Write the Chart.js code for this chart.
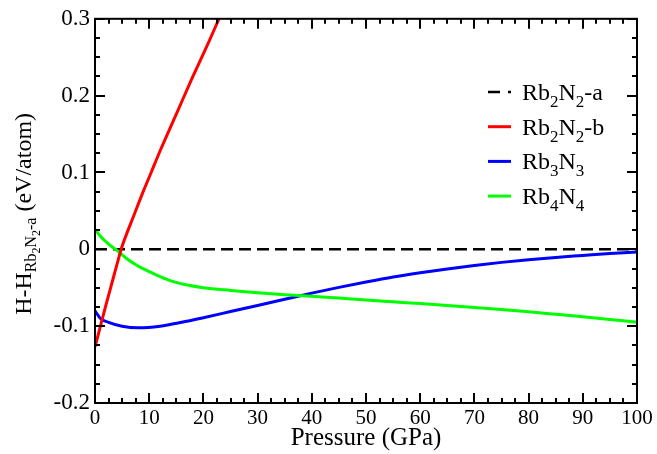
<!DOCTYPE html>
<html>
<head>
<meta charset="utf-8">
<script src="https://cdn.jsdelivr.net/npm/chart.js@4"></script>
<style>
html,body{margin:0;padding:0;background:#fff;}
#wrap{width:657px;height:454px;position:relative;}
</style>
</head>
<body>
<div id="wrap"><canvas id="c" width="657" height="454"></canvas></div>
<script>
// ---- data ----
const refPressure = [0, 100];
const refEnergy = [0, 0];

const redPressure = [0, 1, 2, 3, 4, 5, 6, 7, 9, 10.3, 12, 15, 18, 21, 23];
const redEnergy = [-0.127, -0.100, -0.073, -0.047, -0.021, 0.004, 0.023, 0.041, 0.077, 0.099, 0.128, 0.176, 0.224, 0.270, 0.302];

const bluePressure = [0, 1, 2.5, 5, 8, 12, 16, 20, 25, 30, 35, 40, 45, 50, 55, 60, 65, 70, 75, 80, 85, 90, 95, 100];
const blueEnergy = [-0.080, -0.090, -0.095, -0.100, -0.102, -0.100, -0.095, -0.089, -0.081, -0.073, -0.065, -0.057, -0.0495, -0.0425, -0.036, -0.0305, -0.0255, -0.021, -0.017, -0.0135, -0.0105, -0.008, -0.0055, -0.0035];

const greenPressure = [0, 1, 2, 3, 4, 6, 8, 10, 12, 14, 17, 20, 25, 30, 35, 40, 45, 50, 55, 60, 65, 70, 75, 80, 85, 90, 95, 100];
const greenEnergy = [0.026, 0.017, 0.010, 0.004, -0.001, -0.013, -0.022, -0.029, -0.0355, -0.041, -0.0465, -0.050, -0.0535, -0.0565, -0.059, -0.061, -0.0635, -0.066, -0.0683, -0.0706, -0.073, -0.0756, -0.0783, -0.0812, -0.0845, -0.0878, -0.0913, -0.095];

const xTickValues = [0, 10, 20, 30, 40, 50, 60, 70, 80, 90, 100];
const yTickValues = [-0.2, -0.1, 0, 0.1, 0.2, 0.3];

const xTitle = "Pressure (GPa)";
// y title segments: [text, level] level 0 = normal, 1 = subscript, 2 = sub-subscript
const yTitleParts = [["H-H", 0], ["Rb", 1], ["2", 2], ["N", 1], ["2", 2], ["-a", 1], [" (eV/atom)", 0]];

const legendParts = [
  [["Rb", 0], ["2", 1], ["N", 0], ["2", 1], ["-a", 0]],
  [["Rb", 0], ["2", 1], ["N", 0], ["2", 1], ["-b", 0]],
  [["Rb", 0], ["3", 1], ["N", 0], ["3", 1]],
  [["Rb", 0], ["4", 1], ["N", 0], ["4", 1]]
];
const seriesColors = ["#000000", "#ff0000", "#0000ff", "#00ff00"];

function pts(xs, ys) { return xs.map((x, i) => ({x: x, y: ys[i]})); }

const FONT = "'Liberation Serif', 'Times New Roman', serif";

const frameTicks = {
  id: 'frameTicks',
  afterDatasetsDraw(chart) {
    const ctx = chart.ctx;
    const a = chart.chartArea;
    const xs = chart.scales.x, ys = chart.scales.y;
    ctx.save();
    ctx.strokeStyle = '#000';
    ctx.lineWidth = 2;
    ctx.lineCap = 'butt';
    const major = 10, minor = 5;
    ctx.beginPath();
    for (let i = 0; i < xTickValues.length; i++) {
      const v = xTickValues[i];
      const px = Math.round(xs.getPixelForValue(v));
      ctx.moveTo(px, a.bottom); ctx.lineTo(px, a.bottom - major);
      ctx.moveTo(px, a.top); ctx.lineTo(px, a.top + major);
      if (i < xTickValues.length - 1) {
        const step = (xTickValues[i + 1] - v) / 4;
        for (let k = 1; k < 4; k++) {
          const mp = Math.round(xs.getPixelForValue(v + k * step));
          ctx.moveTo(mp, a.bottom); ctx.lineTo(mp, a.bottom - minor);
          ctx.moveTo(mp, a.top); ctx.lineTo(mp, a.top + minor);
        }
      }
    }
    for (let i = 0; i < yTickValues.length; i++) {
      const v = yTickValues[i];
      const py = Math.round(ys.getPixelForValue(v));
      ctx.moveTo(a.left, py); ctx.lineTo(a.left + major, py);
      ctx.moveTo(a.right, py); ctx.lineTo(a.right - major, py);
      if (i < yTickValues.length - 1) {
        const step = (yTickValues[i + 1] - v) / 4;
        for (let k = 1; k < 4; k++) {
          const mp = Math.round(ys.getPixelForValue(v + k * step));
          ctx.moveTo(a.left, mp); ctx.lineTo(a.left + minor, mp);
          ctx.moveTo(a.right, mp); ctx.lineTo(a.right - minor, mp);
        }
      }
    }
    ctx.stroke();
    ctx.strokeRect(a.left, a.top, a.right - a.left, a.bottom - a.top);
    ctx.restore();
  }
};

const yTitlePlugin = {
  id: 'yTitlePlugin',
  afterDraw(chart) {
    const ctx = chart.ctx;
    const a = chart.chartArea;
    const sizes = [24, 16, 12];
    const offs = [0, 5, 9];
    ctx.save();
    ctx.fillStyle = '#000';
    ctx.textBaseline = 'alphabetic';
    ctx.textAlign = 'left';
    let total = 0;
    for (const [t, l] of yTitleParts) { ctx.font = sizes[l] + 'px ' + FONT; total += ctx.measureText(t).width; }
    const cy = (a.top + a.bottom) / 2 + 3;
    ctx.translate(31, cy);
    ctx.rotate(-Math.PI / 2);
    let x = -total / 2;
    for (const [t, l] of yTitleParts) {
      ctx.font = sizes[l] + 'px ' + FONT;
      ctx.fillText(t, x, offs[l]);
      x += ctx.measureText(t).width;
    }
    ctx.restore();
  }
};

const legendPlugin = {
  id: 'legendPlugin',
  afterDraw(chart) {
    const ctx = chart.ctx;
    const sizes = [24, 17];
    const offs = [0, 7];
    ctx.save();
    for (let r = 0; r < legendParts.length; r++) {
      const ly = 92 + r * 34.7;
      const base = ly + 8;
      ctx.strokeStyle = seriesColors[r];
      ctx.lineWidth = r === 0 ? 2.5 : 3;
      ctx.setLineDash(r === 0 ? [12, 8] : []);
      ctx.beginPath();
      ctx.moveTo(488, ly); ctx.lineTo(511, ly);
      ctx.stroke();
      ctx.setLineDash([]);
      let x = 522;
      ctx.fillStyle = '#000';
      ctx.textBaseline = 'alphabetic';
      ctx.textAlign = 'left';
      for (const [t, l] of legendParts[r]) {
        ctx.font = sizes[l] + 'px ' + FONT;
        ctx.fillText(t, x, base + offs[l]);
        x += ctx.measureText(t).width;
      }
    }
    ctx.restore();
  }
};

const common = {pointRadius: 0, pointHoverRadius: 0, fill: false, clip: 0, cubicInterpolationMode: 'monotone'};

new Chart(document.getElementById('c'), {
  type: 'line',
  data: {
    datasets: [
      Object.assign({label: 'Rb2N2-a', data: pts(refPressure, refEnergy), borderColor: seriesColors[0], borderWidth: 2.5, borderDash: [12, 6], order: 3}, common),
      Object.assign({label: 'Rb2N2-b', data: pts(redPressure, redEnergy), borderColor: seriesColors[1], borderWidth: 3, order: 0}, common),
      Object.assign({label: 'Rb3N3', data: pts(bluePressure, blueEnergy), borderColor: seriesColors[2], borderWidth: 3, order: 2}, common),
      Object.assign({label: 'Rb4N4', data: pts(greenPressure, greenEnergy), borderColor: seriesColors[3], borderWidth: 3, order: 1}, common)
    ]
  },
  options: {
    responsive: false,
    animation: false,
    events: [],
    layout: {padding: {top: 17, right: 20, left: 0, bottom: 0}},
    plugins: {legend: {display: false}, tooltip: {enabled: false}},
    scales: {
      x: {
        type: 'linear', min: 0, max: 100,
        afterBuildTicks: s => { s.ticks = xTickValues.map(v => ({value: v})); },
        afterFit: s => { s.height = 51; },
        grid: {display: false, drawTicks: false},
        border: {display: false},
        ticks: {color: '#000', font: {family: FONT, size: 21}, padding: 3, maxRotation: 0, autoSkip: false,
                callback: v => String(v)},
        title: {display: true, text: xTitle, color: '#000', font: {family: FONT, size: 25}, padding: {top: 0, bottom: 1}}
      },
      y: {
        type: 'linear', min: -0.2, max: 0.3,
        afterBuildTicks: s => { s.ticks = yTickValues.map(v => ({value: v})); },
        afterFit: s => { s.width = 95; },
        grid: {display: false, drawTicks: false},
        border: {display: false},
        ticks: {color: '#000', font: {family: FONT, size: 23}, padding: 5, autoSkip: false,
                callback: v => String(Math.round(v * 10) / 10)}
      }
    }
  },
  plugins: [frameTicks, yTitlePlugin, legendPlugin]
});
</script>
</body>
</html>
